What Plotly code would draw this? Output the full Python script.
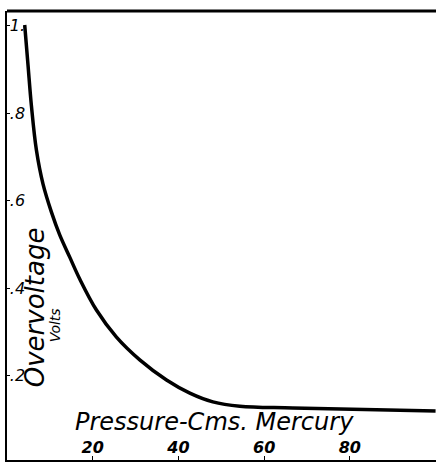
import plotly.graph_objects as go

# Curve: pressure (cms mercury) vs overvoltage (volts)
pressure = [4.13, 4.90, 5.70, 6.86, 8.41, 10.37, 12.30, 14.64, 16.97, 20.87, 25.54, 30.98,
            37.22, 42.66, 48.03, 54.33, 66.71, 100.0]
overvoltage = [1.002, 0.911, 0.817, 0.716, 0.638, 0.574, 0.522, 0.471, 0.421, 0.350, 0.288,
               0.236, 0.190, 0.160, 0.140, 0.130, 0.126, 0.119]

x_tickvals = [20, 40, 60, 80]
x_ticktext = ["20", "40", "60", "80"]
y_tickvals = [0.2, 0.4, 0.6, 0.8, 1.0]
y_ticktext = [".2", ".4", ".6", ".8", "1."]

FONT = "DejaVu Sans"

fig = go.Figure()
fig.add_trace(go.Scatter(
    x=pressure, y=overvoltage, mode="lines",
    line=dict(color="black", width=3.5, shape="spline", smoothing=1.0),
    showlegend=False, hoverinfo="skip",
))

fig.update_layout(
    width=436, height=463,
    margin=dict(l=7, r=0, t=11, b=3, autoexpand=False),
    paper_bgcolor="white", plot_bgcolor="white",
    xaxis=dict(
        range=[0, 100.1], showgrid=False, zeroline=False, automargin=False,
        showline=True, linecolor="black", linewidth=2,
        tickvals=x_tickvals, ticktext=["<i><b>%s</b></i>" % t for t in x_ticktext],
        ticks="inside", ticklen=4, tickcolor="black",
        ticklabelposition="inside",
        tickfont=dict(family=FONT, size=16, color="black"),
    ),
    yaxis=dict(
        range=[0.007, 1.034], showgrid=False, zeroline=False, automargin=False,
        showline=True, linecolor="black", linewidth=2,
        tickvals=y_tickvals, ticktext=["<i>%s</i>" % t for t in y_ticktext],
        ticks="inside", ticklen=3, tickcolor="black",
        ticklabelposition="inside",
        tickfont=dict(family=FONT, size=16, color="black"),
    ),
    shapes=[dict(type="line", xref="paper", yref="paper", x0=0, x1=1, y0=1, y1=1,
                 line=dict(color="black", width=3))],
    annotations=[
        dict(text="<i>Pressure-Cms. Mercury</i>", x=48.5, y=0.093, xref="x", yref="y",
             showarrow=False, font=dict(family=FONT, size=24, color="black")),
        dict(text="<i>Overvoltage</i>", x=6.6, y=0.357, xref="x", yref="y", textangle=-90,
             showarrow=False, font=dict(family=FONT, size=26, color="black")),
        dict(text="<i>Volts</i>", x=11.2, y=0.315, xref="x", yref="y", textangle=-90,
             showarrow=False, font=dict(family=FONT, size=14, color="black")),
    ],
)

fig.write_html("out.html", config={"displayModeBar": False, "staticPlot": True},
               post_script="document.body.style.margin='0';document.body.style.overflow='hidden';"
                           "document.documentElement.style.overflow='hidden';")
